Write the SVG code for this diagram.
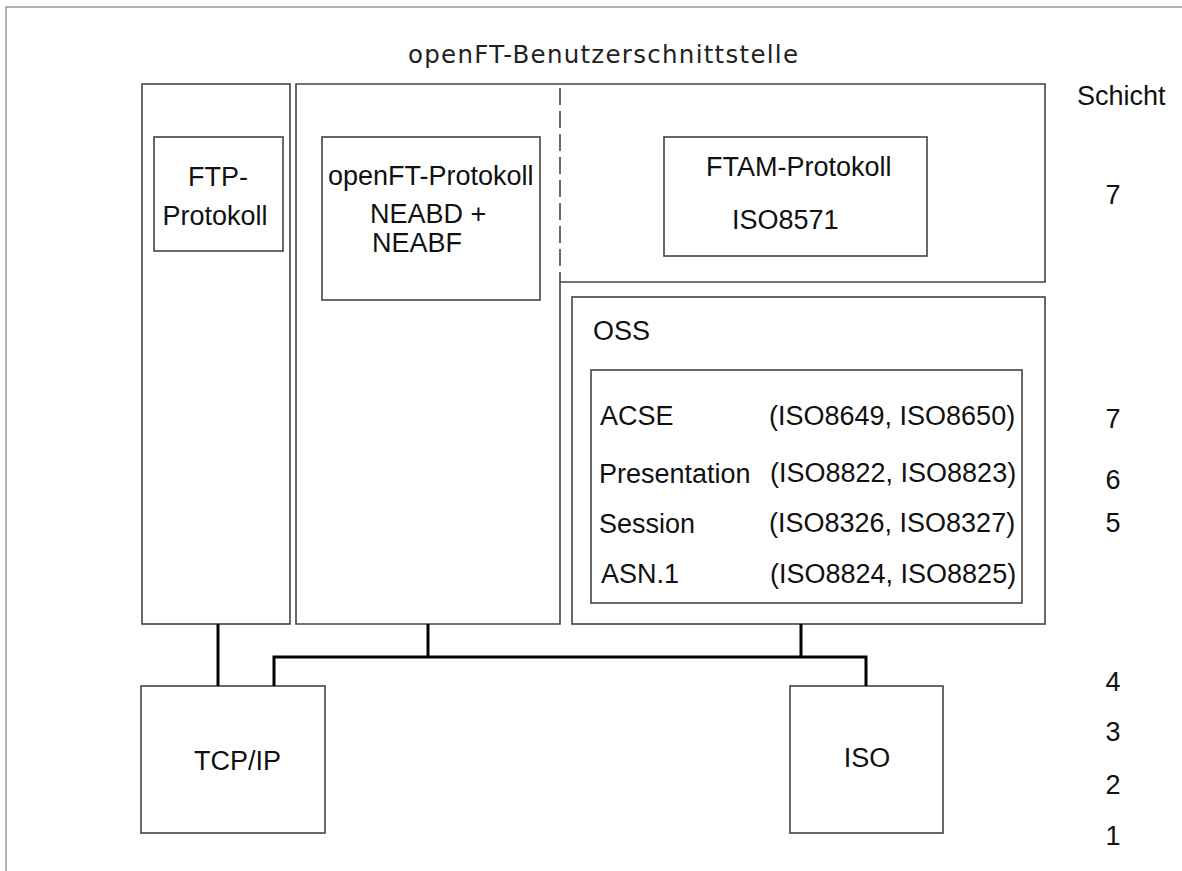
<svg xmlns="http://www.w3.org/2000/svg" width="1182" height="871" viewBox="0 0 1182 871">
<style>
text{font-family:"Liberation Sans",Arial,sans-serif;font-size:27px;fill:#111}
.title{font-family:"DejaVu Sans","Liberation Sans",sans-serif;font-size:24.5px;fill:#222}
.box{fill:none;stroke:#444;stroke-width:1.6}
.frame{fill:none;stroke:#999;stroke-width:1.5}
.conn{fill:none;stroke:#000;stroke-width:3}
.num{text-anchor:middle}
</style>
<rect width="1182" height="871" fill="#fff"/>
<path class="frame" d="M6,871 V7 H1182"/>
<text id="title" class="title" x="408" y="63" textLength="390" lengthAdjust="spacing">openFT-Benutzerschnittstelle</text>
<g id="ftp-column">
<rect class="box" x="142" y="84" width="148" height="540"/>
<g id="ftp-protokoll">
<rect class="box" x="154" y="137" width="129" height="114"/>
<text x="218" y="186" class="num">FTP-</text>
<text x="215" y="225" class="num">Protokoll</text>
</g>
</g>
<g id="openft-column">
<path class="box" d="M560,282 V624 H296 V84 H560"/>
<path class="box" d="M560,88 V282" stroke-dasharray="17 6"/>
<g id="openft-protokoll">
<rect class="box" x="322" y="137" width="218" height="163"/>
<text x="328" y="185">openFT-Protokoll</text>
<text x="370" y="223">NEABD +</text>
<text x="372" y="252">NEABF</text>
</g>
</g>
<g id="ftam-area">
<path class="box" d="M560,84 H1045 V282 H560"/>
<g id="ftam-protokoll">
<rect class="box" x="664" y="137" width="263" height="119"/>
<text x="706" y="176">FTAM-Protokoll</text>
<text x="732" y="229">ISO8571</text>
</g>
</g>
<g id="oss">
<rect class="box" x="572" y="297" width="473" height="327"/>
<text x="593" y="340">OSS</text>
<g id="oss-stack">
<rect class="box" x="591" y="370" width="431" height="233"/>
<text x="600" y="425">ACSE</text>
<text x="769" y="425">(ISO8649, ISO8650)</text>
<text x="599" y="483">Presentation</text>
<text x="770" y="482">(ISO8822, ISO8823)</text>
<text x="599" y="533">Session</text>
<text x="769" y="532">(ISO8326, ISO8327)</text>
<text x="601" y="583">ASN.1</text>
<text x="770" y="583">(ISO8824, ISO8825)</text>
</g>
</g>
<g id="tcpip">
<rect class="box" x="141" y="686" width="184" height="147"/>
<text x="194" y="770">TCP/IP</text>
</g>
<g id="iso">
<rect class="box" x="790" y="686" width="153" height="147"/>
<text x="867" y="767" class="num">ISO</text>
</g>
<g id="schicht">
<text x="1077" y="105">Schicht</text>
<text x="1113" y="204" class="num">7</text>
<text x="1113" y="428" class="num">7</text>
<text x="1113" y="489" class="num">6</text>
<text x="1113" y="532" class="num">5</text>
<text x="1113" y="691" class="num">4</text>
<text x="1113" y="741" class="num">3</text>
<text x="1113" y="794" class="num">2</text>
<text x="1113" y="845" class="num">1</text>
</g>
<g id="connectors">
<path class="conn" d="M218,624 V686"/>
<path class="conn" d="M274,686 V657 H866 V686"/>
<path class="conn" d="M428,624 V657"/>
<path class="conn" d="M801,624 V657"/>
</g>
</svg>
